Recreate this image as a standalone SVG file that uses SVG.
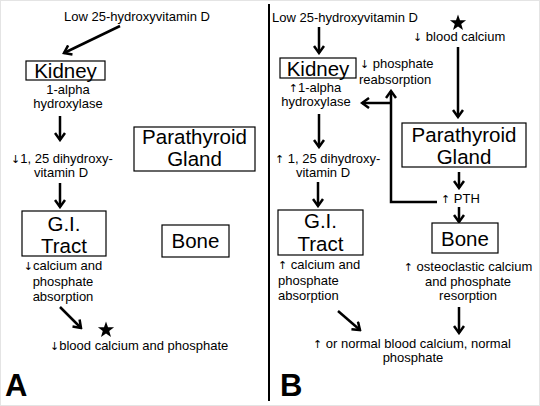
<svg xmlns="http://www.w3.org/2000/svg" width="540" height="406" viewBox="0 0 540 406">
<style>
.t{font-family:"Liberation Sans",Arial,sans-serif;font-size:13px;fill:#000}
.m{text-anchor:middle}
.ar{font-family:"DejaVu Sans",sans-serif;font-size:11px;fill:#000}
.big{font-family:"Liberation Sans",Arial,sans-serif;font-size:20.5px;fill:#000;text-anchor:middle}
.lab{font-family:"Liberation Sans",Arial,sans-serif;font-size:31px;font-weight:bold;fill:#000}
.box{fill:#fff;stroke:#000;stroke-width:1.2}
.ca{fill:none;stroke:#000;stroke-width:2.5;marker-end:url(#ah)}
</style>
<defs>
<marker id="ah" viewBox="0 0 10 12" refX="8" refY="6" markerWidth="10" markerHeight="12" markerUnits="userSpaceOnUse" orient="auto">
<path d="M1,1 L8,6 L1,11" fill="none" stroke="#000" stroke-width="2.5"/>
</marker>
<polygon id="star" points="0,-8.5 2,-2.76 8.08,-2.63 3.24,1.05 5,6.88 0,3.4 -5,6.88 -3.24,1.05 -8.08,-2.63 -2,-2.76"/>
</defs>
<rect x="0.5" y="0.5" width="539" height="405" fill="#fff" stroke="#e4e4e4" stroke-width="1"/>
<line x1="269" y1="4" x2="269" y2="401" stroke="#000" stroke-width="2"/>

<!-- Panel A -->
<g id="connectors-A">
<line class="ca" x1="120" y1="26" x2="64" y2="53"/>
<line class="ca" x1="60" y1="116" x2="60" y2="140"/>
<line class="ca" x1="60" y1="183" x2="60" y2="207"/>
<line class="ca" x1="60" y1="307" x2="81" y2="328"/>
</g>
<g id="A-low25"><text class="t m" x="137" y="21">Low 25-hydroxyvitamin D</text></g>
<g id="A-kidney"><rect class="box" x="26" y="61" width="79" height="19"/><text class="big" x="65.5" y="77.5">Kidney</text></g>
<g id="A-alpha"><text class="t m" x="68" y="94">1-alpha</text><text class="t m" x="68" y="108">hydroxylase</text></g>
<g id="A-dihydroxy"><text class="t" x="11" y="163"><tspan class="ar">↓</tspan>1, 25 dihydroxy-</text><text class="t m" x="61" y="177">vitamin D</text></g>
<g id="A-gi"><rect class="box" x="22" y="211" width="84" height="45"/><text class="big" x="64" y="231">G.I.</text><text class="big" x="64" y="253">Tract</text></g>
<g id="A-absorption"><text class="t m" x="63" y="270"><tspan class="ar">↓</tspan>calcium and</text><text class="t m" x="63" y="285.5">phosphate</text><text class="t m" x="63" y="301">absorption</text></g>
<g id="A-blood"><use href="#star" x="106" y="330"/><text class="t" x="50" y="350"><tspan class="ar">↓</tspan>blood calcium and phosphate</text></g>
<g id="A-parathyroid"><rect class="box" x="134" y="127" width="121" height="44"/><text class="big" x="194.5" y="144">Parathyroid</text><text class="big" x="194.5" y="166">Gland</text></g>
<g id="A-bone"><rect class="box" x="162" y="225" width="67" height="32"/><text class="big" x="195.5" y="248">Bone</text></g>
<text class="lab" x="5" y="396">A</text>

<!-- Panel B -->
<g id="connectors-B">
<line class="ca" x1="319" y1="27" x2="319" y2="53"/>
<line class="ca" x1="458" y1="47" x2="458" y2="117"/>
<line class="ca" x1="319" y1="114" x2="319" y2="147"/>
<line class="ca" x1="318" y1="182" x2="318" y2="206"/>
<line class="ca" x1="459" y1="172" x2="459" y2="188"/>
<line class="ca" x1="459" y1="207" x2="459" y2="222"/>
<polyline class="ca" points="437,202 391,202 391,91"/>
<line class="ca" x1="391" y1="103" x2="362" y2="103"/>
<line class="ca" x1="338" y1="311" x2="360" y2="330"/>
<line class="ca" x1="459" y1="307" x2="459" y2="333"/>
</g>
<g id="B-low25"><text class="t" x="272" y="22">Low 25-hydroxyvitamin D</text></g>
<g id="B-bloodcalcium"><use href="#star" x="458" y="23"/><text class="t" x="413" y="41"><tspan class="ar">↓</tspan> blood calcium</text></g>
<g id="B-kidney"><rect class="box" x="280" y="58" width="76" height="20"/><text class="big" x="318" y="75.5">Kidney</text></g>
<g id="B-phosphate"><text class="t" x="360" y="68"><tspan class="ar">↓</tspan> phosphate</text><text class="t" x="359" y="84">reabsorption</text></g>
<g id="B-alpha"><text class="t m" x="315" y="92"><tspan class="ar">↑</tspan>1-alpha</text><text class="t m" x="316" y="106">hydroxylase</text></g>
<g id="B-parathyroid"><rect class="box" x="402" y="123" width="124" height="44"/><text class="big" x="464" y="142">Parathyroid</text><text class="big" x="464" y="164">Gland</text></g>
<g id="B-dihydroxy"><text class="t" x="275" y="163"><tspan class="ar">↑</tspan> 1, 25 dihydroxy-</text><text class="t m" x="323" y="177">vitamin D</text></g>
<g id="B-pth"><text class="t" x="441" y="203"><tspan class="ar">↑</tspan> PTH</text></g>
<g id="B-gi"><rect class="box" x="278" y="210" width="85" height="45"/><text class="big" x="320.5" y="228">G.I.</text><text class="big" x="320.5" y="251">Tract</text></g>
<g id="B-bone"><rect class="box" x="432" y="223" width="66" height="30"/><text class="big" x="465" y="246">Bone</text></g>
<g id="B-absorption"><text class="t" x="278" y="269"><tspan class="ar">↑</tspan> calcium and</text><text class="t" x="278" y="285">phosphate</text><text class="t" x="278" y="300">absorption</text></g>
<g id="B-resorption"><text class="t m" x="468" y="271"><tspan class="ar">↑</tspan> osteoclastic calcium</text><text class="t m" x="468" y="286">and phosphate</text><text class="t m" x="468" y="300">resorption</text></g>
<g id="B-normal"><text class="t" x="313" y="348"><tspan class="ar">↑</tspan> or normal blood calcium, normal</text><text class="t m" x="413" y="362">phosphate</text></g>
<text class="lab" x="280" y="396">B</text>
</svg>
